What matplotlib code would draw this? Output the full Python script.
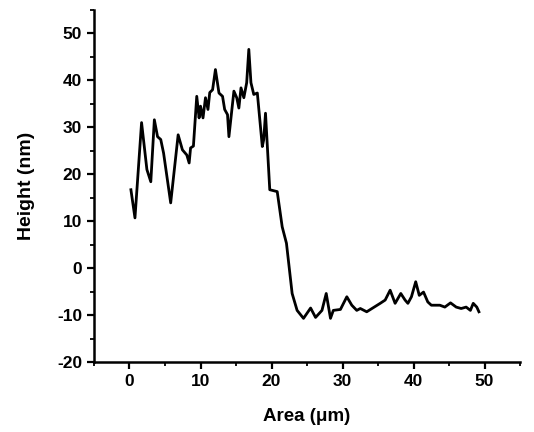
import matplotlib
matplotlib.use('Agg')
import matplotlib.pyplot as plt
from matplotlib.ticker import MultipleLocator

FIGSIZE = (5.34, 4.32)

# Profile data (Area in um, Height in nm)
area = [0.2, 0.77, 1.7, 2.45, 3.0, 3.5, 3.95, 4.4, 4.8, 5.8,
        6.85, 7.45, 8.07, 8.4, 8.6, 9.0, 9.47, 9.8, 10.0, 10.35,
        10.7, 11.05, 11.3, 11.7, 12.1, 12.6, 13.1, 13.4, 13.8, 14.0,
        14.7, 15.1, 15.4, 15.7, 16.1, 16.5, 16.8, 17.1, 17.5, 18.0,
        18.7, 18.9, 19.15, 19.75, 20.8, 21.5, 22.1, 22.9, 23.6, 24.5,
        25.5, 26.2, 27.1, 27.7, 28.3, 28.7, 29.7, 30.6, 31.3, 32.0,
        32.5, 33.4, 35.3, 36.0, 36.7, 37.4, 38.2, 38.8, 39.2, 39.7,
        40.3, 40.8, 41.4, 42.0, 42.5, 43.7, 44.4, 45.2, 46.0, 46.7,
        47.4, 48.0, 48.4, 48.9, 49.2]
height = [16.7, 10.7, 31.0, 21.0, 18.4, 31.6, 28.0, 27.4, 24.5, 13.9,
          28.4, 25.2, 24.1, 22.4, 25.6, 26.0, 36.6, 32.0, 34.5, 32.0,
          36.3, 33.8, 37.4, 38.0, 42.3, 37.3, 36.6, 33.8, 32.7, 28.0,
          37.7, 36.3, 34.1, 38.4, 36.3, 39.5, 46.6, 39.5, 37.0, 37.3,
          25.9, 27.4, 33.0, 16.7, 16.3, 8.8, 5.3, -5.4, -9.0, -10.7,
          -8.5, -10.5, -9.0, -5.4, -10.7, -9.0, -8.8, -6.1, -7.9, -9.0,
          -8.6, -9.3, -7.5, -6.8, -4.7, -7.5, -5.4, -6.8, -7.5, -6.1,
          -2.9, -5.8, -5.1, -7.2, -7.9, -7.9, -8.3, -7.4, -8.3, -8.6,
          -8.3, -9.0, -7.5, -8.3, -9.3]

plt.rcParams['font.family'] = ['Liberation Sans', 'DejaVu Sans']
plt.rcParams['font.weight'] = 'bold'
plt.rcParams['axes.unicode_minus'] = False

fig = plt.figure(figsize=FIGSIZE, dpi=100)
ax = fig.add_axes([0.176, 0.162, 0.798, 0.815])
ax.plot(area, height, color='black', linewidth=2.0)

ax.set_xlim(-5, 55)
ax.set_ylim(-20, 55)
ax.xaxis.set_major_locator(MultipleLocator(10))
ax.xaxis.set_minor_locator(MultipleLocator(5))
ax.yaxis.set_major_locator(MultipleLocator(10))
ax.yaxis.set_minor_locator(MultipleLocator(5))

for side in ('top', 'right'):
    ax.spines[side].set_visible(False)
for side in ('left', 'bottom'):
    ax.spines[side].set_linewidth(1.8)

ax.tick_params(which='major', direction='out', length=5, width=1.6, labelsize=12.5)
ax.tick_params(which='minor', direction='out', length=3, width=1.3)

ax.set_xlabel('Area (\u03bcm)', fontsize=13.5, fontweight='bold', labelpad=14)
ax.set_ylabel('Height (nm)', fontsize=14, fontweight='bold', labelpad=16)

fig.savefig('out.png', dpi=100)
